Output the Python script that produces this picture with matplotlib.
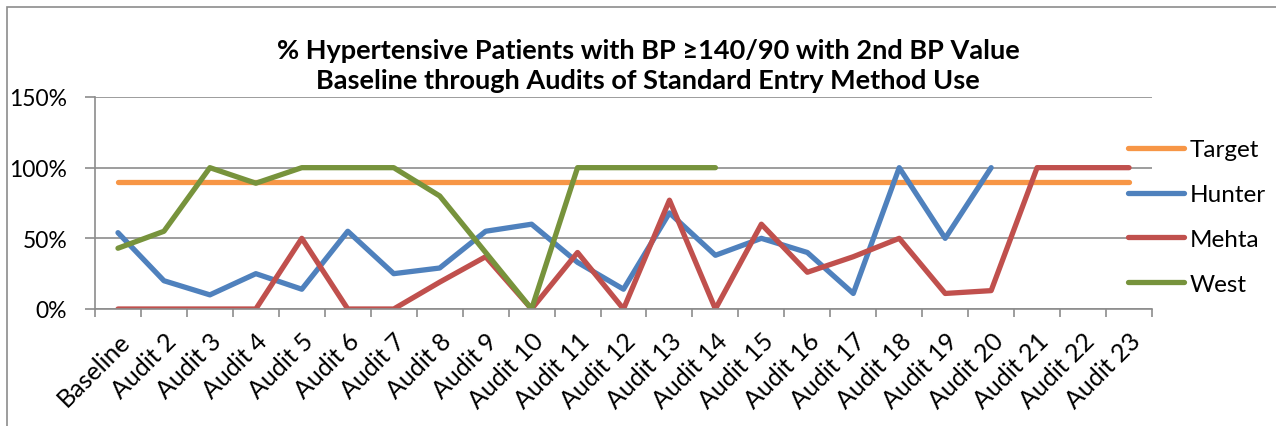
import numpy as np
import matplotlib.pyplot as plt
from matplotlib.patches import Rectangle

# data
cats = ['Baseline'] + [f'Audit {i}' for i in range(2, 24)]
target = [90] * 23
hunter = [54, 20, 10, 25, 14, 55, 25, 29, 55, 60, 33, 14, 68, 38, 50, 40, 11, 100, 50, 100]
mehta = [0, 0, 0, 0, 50, 0, 0, 19, 37, 0, 40, 0, 77, 0, 60, 26, 37, 50, 11, 13, 100, 100, 100]
west = [43, 55, 100, 89, 100, 100, 100, 80, 40, 0, 100, 100, 100, 100]

plt.rcParams['font.family'] = ['Lato', 'DejaVu Sans']

fig = plt.figure(figsize=(12.76, 4.27), dpi=100)
ax = fig.add_axes([95/1276, 1-310/427, (1152-95)/1276, 212/427])

# outer chart border
fig.patches.append(Rectangle((7/1276, -0.1), 1.2, 1 - 8/427 + 0.1, transform=fig.transFigure,
                             fill=False, edgecolor='#8c8c8c', linewidth=1.2))

kw = dict(linewidth=3.8, solid_capstyle='round', solid_joinstyle='round')
ax.plot(np.arange(len(target)), target, color='#F79646', label='Target', **kw)
ax.plot(np.arange(len(hunter)), hunter, color='#4F81BD', label='Hunter', **kw)
ax.plot(np.arange(len(mehta)), mehta, color='#C0504D', label='Mehta', **kw)
ax.plot(np.arange(len(west)), west, color='#77933C', label='West', **kw)

ax.set_xlim(-0.5, len(cats) - 0.5)
ax.set_ylim(0, 150)
ax.set_yticks([0, 50, 100, 150])
ax.set_yticklabels(['0%', '50%', '100%', '150%'], fontsize=16.5)
ax.yaxis.grid(True, color='#8c8c8c', linewidth=1.2)
ax.set_axisbelow(True)

ax.set_xticks(np.arange(len(cats)))
ax.set_xticklabels(cats, rotation=45, ha='right', va='top', rotation_mode='anchor', fontsize=18)
ax.tick_params(axis='x', length=0, pad=14)
ax.set_xticks(np.arange(len(cats) + 1) - 0.5, minor=True)
ax.tick_params(axis='x', which='minor', length=6, color='#8c8c8c', width=1.2)
ax.tick_params(axis='y', length=7, color='#8c8c8c', width=1.2, pad=13)

for s in ['top', 'right']:
    ax.spines[s].set_visible(False)
for s in ['left', 'bottom']:
    ax.spines[s].set_color('#8c8c8c')
    ax.spines[s].set_linewidth(1.2)

ax.legend(loc='center left', bbox_to_anchor=(1128/1276, 1 - 218/427), bbox_transform=fig.transFigure,
          frameon=False, fontsize=17.5, borderpad=0, borderaxespad=0,
          handlelength=2.3, handletextpad=0.22, labelspacing=0.98)

fig.text(0.508, 1 - 66/427, '% Hypertensive Patients with BP ≥140/90 with 2nd BP Value\n'
         'Baseline through Audits of Standard Entry Method Use',
         ha='center', va='center', fontsize=19.5, fontweight='bold', linespacing=1.28)

fig.savefig('out.png', dpi=100)
